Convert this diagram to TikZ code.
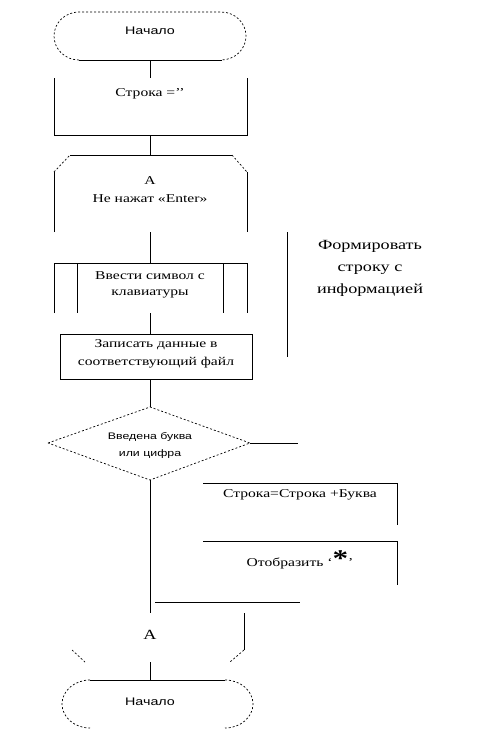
\documentclass[tikz,border=0pt]{standalone}
\usepackage{fontspec}
\setmainfont[FakeStretch=1.3]{Liberation Serif}
\newfontfamily\sansw[FakeStretch=1.3]{Liberation Sans}
\begin{document}
\begin{tikzpicture}[x=1pt,y=-1pt,
  ln/.style={line width=0.8pt,black},
  dsh/.style={line width=0.7pt,black,dash pattern=on 2pt off 2pt},
  txt/.style={inner sep=0pt,font=\fontsize{12}{14}\selectfont},
  stxt/.style={inner sep=0pt,font=\sansw\fontsize{11}{13}\selectfont},
  btxt/.style={inner sep=0pt,align=center,font=\fontsize{14}{22}\selectfont}]
\useasboundingbox (0,0) rectangle (492,740);
\fill[white] (0,0) rectangle (492,740);
% coordinates
\coordinate (t1b) at (150,60);
\coordinate (b1t) at (150,78);
\coordinate (b1b) at (150,135);
\coordinate (l1t) at (150,155);
\coordinate (l1b) at (150,232);
\coordinate (inT) at (150,263);
\coordinate (inB) at (150,313);
\coordinate (wrT) at (150,334);
\coordinate (wrB) at (150,379);
\coordinate (dT) at (150,407);
\coordinate (dB) at (150,480);
\coordinate (dL) at (48,443);
\coordinate (dR) at (250,443);
\coordinate (dRe) at (298,443);
\coordinate (aT) at (150,613);
\coordinate (aB) at (150,662);
\coordinate (t2t) at (150,680);
% top terminal
\node[stxt] (start) at (150,31) {Начало};
\draw[dsh] (79,60) arc[start angle=270,end angle=90,x radius=25pt,y radius=24pt] -- (221,12)
  arc[start angle=90,end angle=-90,x radius=25pt,y radius=24pt];
\draw[ln] (79,60) -- (222,60);
\draw[ln] (t1b) -- (b1t);
% box Строка
\draw[ln] (54,78) -- (54,135) -- (247,135) -- (247,78);
\node[txt] (init) at (150,94) {Строка =’’};
\draw[ln] (b1b) -- (l1t);
% loop start
\draw[ln] (54,232) -- (54,172);
\draw[dsh] (54,172) -- (70,155);
\draw[ln] (70,155) -- (232,155);
\draw[dsh] (232,155) -- (247,172);
\draw[ln] (247,172) -- (247,232);
\node[txt] (loopA) at (150,181) {А};
\node[txt] (loopc) at (150,199) {Не нажат «Enter»};
\draw[ln] (l1b) -- (inT);
% input box
\draw[ln] (54,313) -- (54,263) -- (247,263) -- (247,313);
\draw[ln] (77,263) -- (77,313);
\draw[ln] (223,263) -- (223,313);
\node[txt] (in1) at (150,276) {Ввести символ с};
\node[txt] (in2) at (150,294) {клавиатуры};
\draw[ln] (inB) -- (wrT);
% write box
\draw[ln] (60,334) rectangle (252,379);
\node[txt] (wr1) at (156,345) {Записать данные в};
\node[txt] (wr2) at (156,363) {соответствующий файл};
\draw[ln] (wrB) -- (dT);
% side comment
\draw[ln] (287,232) -- (287,357);
\node[btxt] (side) at (370,268) {Формировать\\строку с\\информацией};
% diamond
\draw[dsh] (dL) -- (dT) -- (dR) -- (dB) -- cycle;
\node[stxt,align=center,font=\sansw\fontsize{9.5}{17}\selectfont] (dec) at (150,445) {Введена буква\\или цифра};
\draw[ln] (dR) -- (dRe);
\draw[ln] (dB) -- (aT);
% right boxes
\draw[ln] (203,483) -- (397,483) -- (397,525);
\node[txt] (add) at (300,495) {Строка=Строка +Буква};
\draw[ln] (203,541) -- (397,541) -- (397,585);
\node[txt] (show) at (300,560) {Отобразить ‘{\fontsize{24}{24}\selectfont\bfseries *}’};
\draw[ln] (155,602) -- (300,602);
% loop end
\draw[ln] (244,613) -- (244,650);
\draw[dsh] (244,650) -- (230,662);
\draw[dsh] (72,650) -- (85,662);
\node[txt,font=\fontsize{14}{16}\selectfont] (endA) at (150,635) {А};
\draw[ln] (aB) -- (t2t);
% bottom terminal
\node[stxt] (fin) at (150,702) {Начало};
\draw[ln] (90,680) -- (225,680);
\draw[dsh] (90,680) arc[start angle=90,end angle=270,x radius=28pt,y radius=24pt];
\draw[dsh] (225,680) arc[start angle=90,end angle=-90,x radius=28pt,y radius=24pt];
\end{tikzpicture}
\end{document}
